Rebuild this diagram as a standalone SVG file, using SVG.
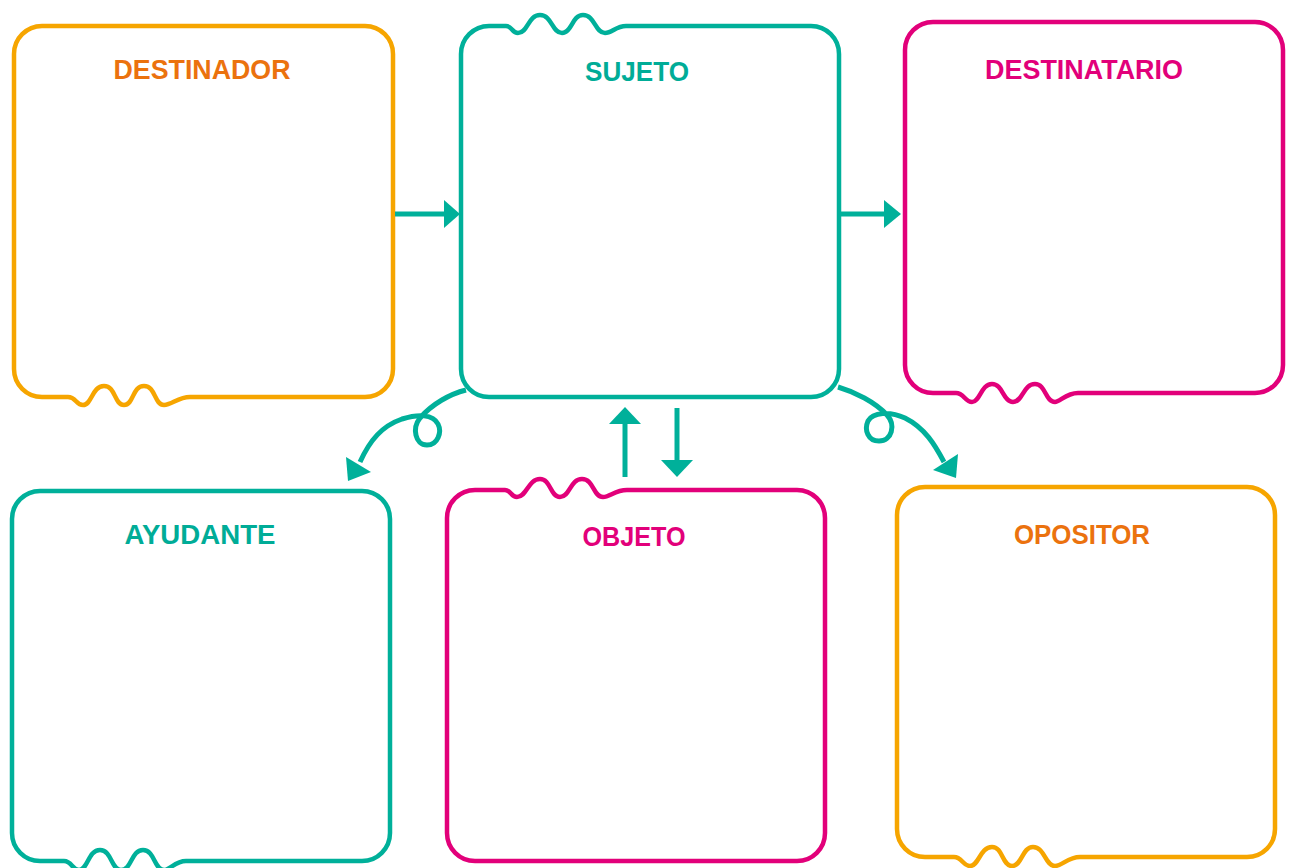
<svg xmlns="http://www.w3.org/2000/svg" width="1291" height="868" viewBox="0 0 1291 868">
<style>
.box{fill:none;stroke-width:4.5;stroke-linejoin:round}
.o{stroke:#F6A500}
.t{stroke:#00B09A}
.m{stroke:#E2007A}
.lbl{font-family:"Liberation Sans",Arial,sans-serif;font-weight:bold;font-size:27px;text-anchor:middle}
.lo{fill:#EB720E}
.lt{fill:#00AC97}
.lm{fill:#E2007A}
.cl{fill:none;stroke:#00B09A;stroke-width:5}
.ah{fill:#00B09A}
</style>
<rect width="1291" height="868" fill="#fff"/>
<g id="destinador">
<path class="box o" d="M42,26 H365 A28,28 0 0 1 393,54 V369 A28,28 0 0 1 365,397 H190 C178,397 172,405 164,405 C154,405 156,386 144,386 C132,386 134,405 124,405 C114,405 116,386 104,386 C92,386 92,405 83,405 C76,405 76,397 68,397 H42 A28,28 0 0 1 14,369 V54 A28,28 0 0 1 42,26 Z"/>
<text class="lbl lo" x="202" y="79" textLength="177" lengthAdjust="spacingAndGlyphs">DESTINADOR</text>
</g>
<g id="sujeto">
<path class="box t" d="M489,26 H506 C512,26 512,33 518,33 C528,33 528,15 540,15 C552,15 552,33 562,33 C572,33 572,15 583,15 C595,15 595,33 605,33 C612,33 616,26 626,26 H811 A28,28 0 0 1 839,54 V369 A28,28 0 0 1 811,397 H489 A28,28 0 0 1 461,369 V54 A28,28 0 0 1 489,26 Z"/>
<text class="lbl lt" x="637" y="81" textLength="104" lengthAdjust="spacingAndGlyphs">SUJETO</text>
</g>
<g id="destinatario">
<path class="box m" d="M933,22 H1255 A28,28 0 0 1 1283,50 V365 A28,28 0 0 1 1255,393 H1078 C1066,393 1060,402 1055,402 C1045,402 1046,384 1035,384 C1023,384 1023,402 1013,402 C1003,402 1003,384 992,384 C981,384 980,402 972,402 C965,402 964,393 956,393 H933 A28,28 0 0 1 905,365 V50 A28,28 0 0 1 933,22 Z"/>
<text class="lbl lm" x="1084" y="79" textLength="198" lengthAdjust="spacingAndGlyphs">DESTINATARIO</text>
</g>
<g id="ayudante">
<path class="box t" d="M40,491 H362 A28,28 0 0 1 390,519 V833 A28,28 0 0 1 362,861 H186 C175,861 170,870 164,870 C154,870 155,850 143,850 C131,850 132,870 121,870 C111,870 112,850 100,850 C88,850 88,870 79,870 C72,870 72,861 64,861 H40 A28,28 0 0 1 12,833 V519 A28,28 0 0 1 40,491 Z"/>
<text class="lbl lt" x="200" y="544" textLength="151" lengthAdjust="spacingAndGlyphs">AYUDANTE</text>
</g>
<g id="objeto">
<path class="box m" d="M475,490 H505 C511,490 511,497 517,497 C527,497 528,479 540,479 C551,479 550,497 560,497 C570,497 570,479 582,479 C594,479 593,497 603,497 C610,497 615,490 627,490 H797 A28,28 0 0 1 825,518 V833 A28,28 0 0 1 797,861 H475 A28,28 0 0 1 447,833 V518 A28,28 0 0 1 475,490 Z"/>
<text class="lbl lm" x="634" y="546" textLength="103" lengthAdjust="spacingAndGlyphs">OBJETO</text>
</g>
<g id="opositor">
<path class="box o" d="M925,487 H1247 A28,28 0 0 1 1275,515 V829 A28,28 0 0 1 1247,857 H1080 C1068,857 1062,866 1055,866 C1045,866 1045,847 1033,847 C1022,847 1022,866 1012,866 C1002,866 1003,847 992,847 C980,847 979,866 970,866 C963,866 962,857 954,857 H925 A28,28 0 0 1 897,829 V515 A28,28 0 0 1 925,487 Z"/>
<text class="lbl lo" x="1082" y="544" textLength="136" lengthAdjust="spacingAndGlyphs">OPOSITOR</text>
</g>
<g id="connectors">
<line class="cl" x1="395" y1="214" x2="446" y2="214"/>
<polygon class="ah" points="444,200 460,214 444,228"/>
<line class="cl" x1="840" y1="214" x2="886" y2="214"/>
<polygon class="ah" points="884,200 901,214 884,228"/>
<line class="cl" x1="625" y1="477" x2="625" y2="421"/>
<polygon class="ah" points="625,407 641,424 609,424"/>
<line class="cl" x1="677" y1="408" x2="677" y2="462"/>
<polygon class="ah" points="661,460 693,460 677,477"/>
<path class="cl" d="M466,390 C450,394 432,404 420,418 C412,428 415,445 427,445 C438,445 442,432 438,424 C433,414 418,414 402,419 C382,426 370,440 360,462"/>
<polygon class="ah" points="348,481 346,457 371,472"/>
<path class="cl" d="M838,387 C855,392 875,402 887,415 C896,425 892,441 879,441 C868,441 864,430 868,421 C873,412 890,411 905,418 C925,428 935,445 944,462"/>
<polygon class="ah" points="956,478 958,454 933,470"/>
</g>
</svg>
